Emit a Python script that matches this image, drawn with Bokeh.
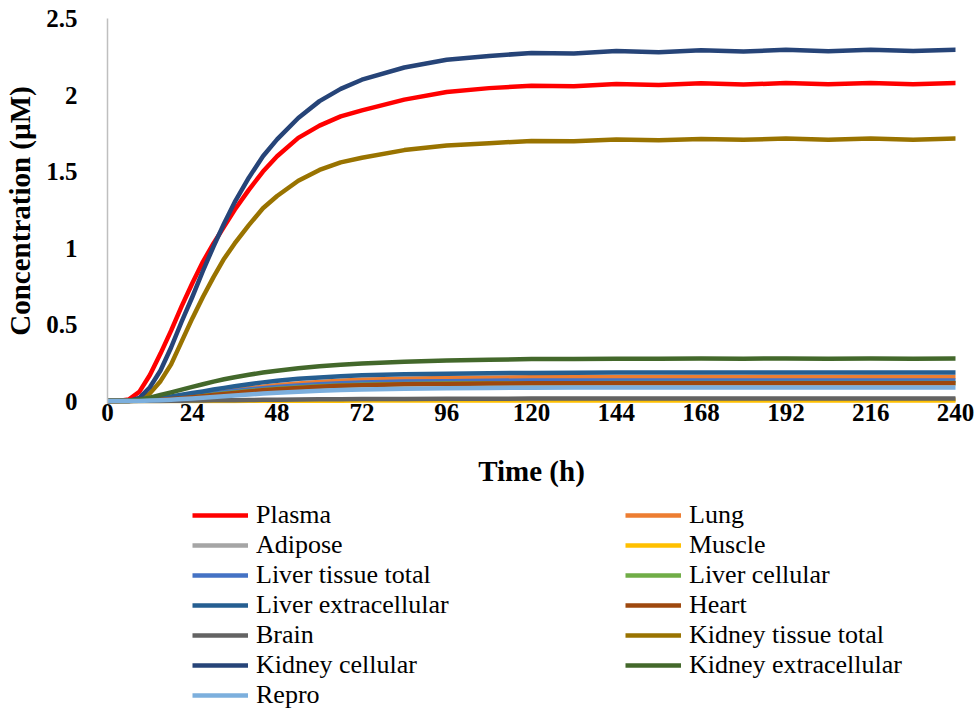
from bokeh.plotting import figure
from bokeh.layouts import column
from bokeh.models import Range1d, FixedTicker, Legend, LegendItem
from bokeh.embed import file_html
from bokeh.resources import INLINE

# ---------------- data ----------------
time_h = [0, 3, 6, 9, 12, 15, 18, 21, 24, 27, 30, 33, 36, 40, 44, 48, 54, 60, 66, 72, 84, 96, 108, 120,
          132, 144, 156, 168, 180, 192, 204, 216, 228, 240]

plasma = [0, 0, 0.01, 0.06, 0.17, 0.31, 0.46, 0.62, 0.77, 0.91, 1.03, 1.14, 1.25, 1.38, 1.50, 1.60,
          1.72, 1.80, 1.86, 1.90, 1.97, 2.02, 2.045, 2.06,
          2.058, 2.072, 2.065, 2.077, 2.068, 2.078, 2.07, 2.078, 2.07, 2.078]
lung = [0, 0, 0.001, 0.003, 0.007, 0.013, 0.02, 0.028, 0.037, 0.046, 0.055, 0.064, 0.073, 0.084, 0.094,
        0.103, 0.115, 0.125, 0.133, 0.139, 0.146, 0.150, 0.153, 0.155,
        0.155, 0.156, 0.156, 0.157, 0.156, 0.157, 0.156, 0.157, 0.156, 0.157]
adipose = [0, 0, 0, 0, 0, 0.001, 0.001, 0.001, 0.002, 0.002, 0.003, 0.003, 0.004, 0.004, 0.005,
           0.006, 0.006, 0.007, 0.008, 0.008, 0.009, 0.009, 0.010, 0.010,
           0.010, 0.010, 0.010, 0.010, 0.010, 0.010, 0.010, 0.010, 0.010, 0.010]
muscle = [0, 0, 0, 0, 0, 0, 0.001, 0.001, 0.001, 0.001, 0.001, 0.001, 0.001, 0.002, 0.002,
          0.002, 0.002, 0.002, 0.002, 0.003, 0.003, 0.003, 0.003, 0.003,
          0.003, 0.003, 0.003, 0.003, 0.003, 0.003, 0.003, 0.003, 0.003, 0.003]
liver_total = [0, 0, 0.001, 0.003, 0.007, 0.012, 0.018, 0.025, 0.033, 0.041, 0.049, 0.057, 0.065, 0.075,
               0.084, 0.092, 0.102, 0.110, 0.116, 0.121, 0.127, 0.130, 0.133, 0.134,
               0.134, 0.135, 0.135, 0.135, 0.135, 0.135, 0.135, 0.135, 0.135, 0.135]
liver_cell = [0, 0, 0.001, 0.002, 0.006, 0.010, 0.015, 0.021, 0.028, 0.035, 0.042, 0.049, 0.056, 0.065,
              0.073, 0.080, 0.089, 0.096, 0.102, 0.106, 0.111, 0.114, 0.116, 0.117,
              0.117, 0.118, 0.118, 0.118, 0.118, 0.118, 0.118, 0.118, 0.118, 0.118]
liver_ext = [0, 0, 0.001, 0.005, 0.011, 0.020, 0.030, 0.041, 0.052, 0.063, 0.075, 0.086, 0.097, 0.110,
             0.122, 0.132, 0.145, 0.154, 0.162, 0.168, 0.175, 0.179, 0.182, 0.184,
             0.185, 0.186, 0.186, 0.186, 0.186, 0.186, 0.186, 0.186, 0.186, 0.186]
heart = [0, 0, 0, 0.002, 0.005, 0.009, 0.014, 0.019, 0.025, 0.032, 0.039, 0.046, 0.053, 0.062,
         0.070, 0.077, 0.086, 0.094, 0.100, 0.104, 0.109, 0.112, 0.114, 0.116,
         0.116, 0.117, 0.117, 0.117, 0.117, 0.117, 0.117, 0.117, 0.117, 0.117]
brain = [0, 0, 0, 0, 0.001, 0.001, 0.002, 0.002, 0.003, 0.004, 0.005, 0.005, 0.006, 0.007, 0.008,
         0.009, 0.010, 0.011, 0.012, 0.013, 0.014, 0.015, 0.015, 0.016,
         0.016, 0.016, 0.016, 0.016, 0.016, 0.016, 0.016, 0.016, 0.016, 0.016]
kidney_total = [0, 0, 0, 0.01, 0.05, 0.13, 0.24, 0.39, 0.54, 0.68, 0.81, 0.93, 1.03, 1.15, 1.26,
                1.34, 1.44, 1.51, 1.56, 1.59, 1.64, 1.67, 1.685, 1.70,
                1.698, 1.71, 1.705, 1.713, 1.707, 1.715, 1.708, 1.715, 1.708, 1.715]
kidney_cell = [0, 0, 0, 0.02, 0.09, 0.20, 0.35, 0.52, 0.68, 0.85, 1.01, 1.16, 1.30, 1.46, 1.60,
               1.71, 1.85, 1.96, 2.04, 2.10, 2.18, 2.23, 2.255, 2.275,
               2.272, 2.288, 2.28, 2.293, 2.284, 2.295, 2.286, 2.296, 2.287, 2.296]
kidney_ext = [0, 0, 0.002, 0.010, 0.022, 0.040, 0.057, 0.075, 0.093, 0.110, 0.127, 0.142, 0.156, 0.172,
              0.186, 0.198, 0.214, 0.227, 0.238, 0.246, 0.257, 0.265, 0.270, 0.274,
              0.275, 0.277, 0.276, 0.278, 0.277, 0.278, 0.277, 0.278, 0.277, 0.278]
repro = [0, 0, 0, 0.001, 0.003, 0.006, 0.009, 0.013, 0.017, 0.022, 0.027, 0.032, 0.037, 0.043,
         0.049, 0.054, 0.061, 0.067, 0.072, 0.075, 0.080, 0.083, 0.086, 0.087,
         0.088, 0.089, 0.089, 0.089, 0.089, 0.089, 0.089, 0.089, 0.089, 0.089]

series_names = ["Plasma", "Lung", "Adipose", "Muscle", "Liver tissue total", "Liver cellular",
                "Liver extracellular", "Heart", "Brain", "Kidney tissue total", "Kidney cellular",
                "Kidney extracellular", "Repro"]
series_values = [plasma, lung, adipose, muscle, liver_total, liver_cell, liver_ext, heart, brain,
                 kidney_total, kidney_cell, kidney_ext, repro]
series_colors = ["#FF0000", "#ED7D31", "#A5A5A5", "#FFC000", "#4472C4", "#70AD47", "#255E91",
                 "#9E480E", "#636363", "#997300", "#264478", "#43682B", "#7CAFDD"]

x_ticks = [0, 24, 48, 72, 96, 120, 144, 168, 192, 216, 240]
y_ticks = [0, 0.5, 1, 1.5, 2, 2.5]
y_tick_labels = ["0", "0.5", "1", "1.5", "2", "2.5"]

FONT = "Liberation Serif"
LW = 4.5
BORDERS = dict(min_border_left=107, min_border_right=24)

# ---------------- main chart ----------------
p = figure(frame_width=848, frame_height=385, min_border_top=18, min_border_bottom=92, **BORDERS,
           x_range=Range1d(0, 240), y_range=Range1d(-0.016, 2.5),
           output_backend="svg", toolbar_location=None)
p.xgrid.visible = False
p.ygrid.visible = False
p.outline_line_color = None

for name, vals, col in zip(series_names, series_values, series_colors):
    p.line(time_h, vals, line_color=col, line_width=LW, line_join="round", line_cap="round")

xa = p.xaxis[0]
xa.ticker = FixedTicker(ticks=x_ticks)
xa.axis_line_color = None
xa.major_tick_line_color = None
xa.minor_tick_line_color = None
xa.major_label_text_font = FONT
xa.major_label_text_font_style = "bold"
xa.major_label_text_font_size = "25px"
xa.major_label_text_color = "black"
xa.major_label_standoff = -6
xa.axis_label = "Time (h)"
xa.axis_label_text_font = FONT
xa.axis_label_text_font_style = "bold"
xa.axis_label_text_font_size = "29px"
xa.axis_label_text_color = "black"
xa.axis_label_standoff = 31

ya = p.yaxis[0]
ya.ticker = FixedTicker(ticks=y_ticks)
ya.major_label_overrides = {t: s for t, s in zip(y_ticks, y_tick_labels)}
ya.axis_line_color = "#BFBFBF"
ya.axis_line_width = 1.5
ya.major_tick_line_color = None
ya.minor_tick_line_color = None
ya.major_label_text_font = FONT
ya.major_label_text_font_style = "bold"
ya.major_label_text_font_size = "25px"
ya.major_label_text_color = "black"
ya.major_label_standoff = 24
ya.axis_label = "Concentration (µM)"
ya.axis_label_text_font = FONT
ya.axis_label_text_font_style = "bold"
ya.axis_label_text_font_size = "29px"
ya.axis_label_text_color = "black"
ya.axis_label_standoff = 7

# ---------------- legend area (below the chart) ----------------
# same series drawn again, but outside the visible y range: only their legend entries show
lg = figure(frame_width=848, frame_height=215, min_border_top=0, min_border_bottom=0, **BORDERS,
            x_range=Range1d(0, 240), y_range=Range1d(100, 101),
            x_axis_location=None, y_axis_location=None,
            output_backend="svg", toolbar_location=None)
lg.xgrid.visible = False
lg.ygrid.visible = False
lg.outline_line_color = None

items = []
for name, vals, col in zip(series_names, series_values, series_colors):
    r = lg.line(time_h, vals, line_color=col, line_width=LW)
    items.append(LegendItem(label=name, renderers=[r]))

legend = Legend(items=items, location=(85, 0), orientation="horizontal", ncols=2,
                glyph_width=56, glyph_height=20, label_height=20, label_width=369,
                label_standoff=8, spacing=0, padding=0, margin=0,
                border_line_color=None, background_fill_alpha=0,
                label_text_font=FONT, label_text_font_size="26px", label_text_color="black")
lg.add_layout(legend)

layout = column(p, lg, spacing=0)
open("out.html", "w").write(file_html(layout, INLINE))
